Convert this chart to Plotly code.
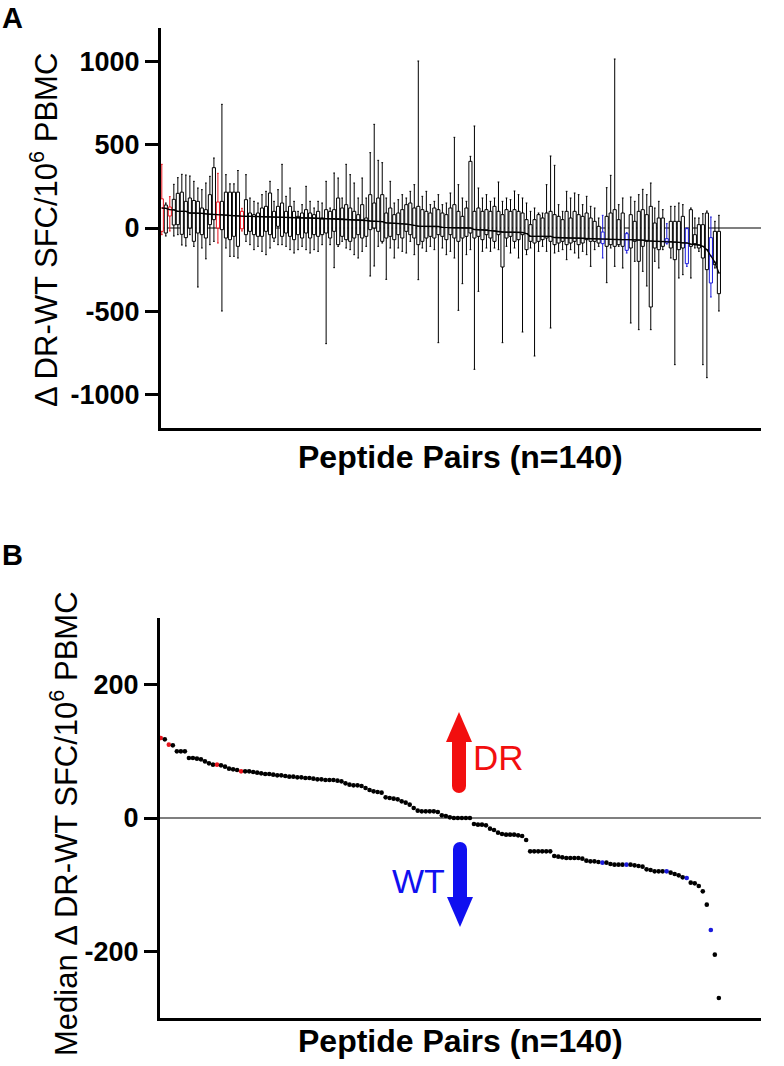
import plotly.graph_objects as go

W, H = 784, 1066

# ---------------- data ----------------
pair_idx = list(range(1, 141))

medians = [120,118,110,109,100,100,100,90,90,89,
           88,85,82,80,80,79,77,74,73,72,
           70,70,70,69,68,67,66,66,65,64,
           64,63,62,62,61,61,60,60,59,58,
           58,57,57,57,56,55,52,50,49,49,
           48,45,42,40,39,38,31,30,29,28,
           25,23,20,15,11,10,10,10,10,9,
           4,3,1,0,0,0,0,0,-9,-10,
           -10,-11,-16,-18,-22,-24,-25,-25,-25,-26,
           -27,-33,-50,-50,-50,-50,-50,-50,-57,-58,
           -59,-60,-60,-60,-60,-61,-64,-65,-65,-66,
           -67,-67,-69,-70,-70,-70,-70,-70,-71,-72,
           -73,-77,-78,-80,-80,-80,-80,-82,-84,-86,
           -89,-90,-97,-98,-102,-110,-130,-168,-205,-270]

upper_whisker = [382,150,188,262,302,322,318,312,280,240,
                 230,270,310,420,328,742,320,265,265,345,
                 118,320,180,160,150,200,220,280,160,230,
                 382,190,240,160,100,140,250,160,120,160,
                 150,280,120,330,300,180,382,320,270,180,
                 300,180,452,622,406,392,180,280,150,170,
                 200,180,220,260,1002,190,220,140,160,200,
                 140,150,210,544,260,180,160,430,612,240,
                 180,200,160,180,276,160,180,170,222,200,
                 180,150,100,120,90,90,260,432,376,140,
                 100,220,180,210,200,140,190,130,120,60,
                 76,242,316,1014,140,180,-28,186,160,200,
                 232,200,270,120,160,110,26,130,130,150,
                 140,0,120,60,60,86,102,66,40,76]

q3 = [175,138,126,172,208,215,160,180,165,160,
      120,110,200,362,156,160,215,215,215,215,
      100,170,90,80,90,120,130,210,100,130,
      150,100,130,100,70,90,110,90,80,100,
      60,110,100,110,180,120,140,120,100,80,
      140,60,200,150,180,200,90,120,80,90,
      110,140,150,120,130,110,100,90,120,110,
      90,80,120,140,100,70,120,400,100,120,
      100,110,100,130,100,80,110,100,110,100,
      90,50,20,50,80,60,90,100,80,70,
      50,100,60,100,80,70,90,60,40,10,
      -24,70,90,110,50,90,-34,80,40,100,
      110,80,130,30,60,60,-64,40,40,40,
      70,-4,110,-40,20,20,90,-58,-20,-20]

q1 = [-20,-30,72,18,20,-38,-58,0,-80,-30,
      -40,-60,20,50,0,-10,-60,-70,-50,-110,
      -5,-40,-20,-40,-50,-50,-20,-40,-60,10,
      -50,-30,-50,-70,-40,-60,-30,-60,-40,-50,
      -40,-30,-60,-20,-100,-50,-70,-80,-60,-40,
      -60,-50,-10,0,-20,-80,-60,-50,-70,-40,
      -60,-20,-40,-60,-100,-80,-60,-50,-60,-40,
      -50,-70,-40,-60,-80,-60,-50,-30,-60,-50,
      -70,-40,-60,-80,-40,-234,-60,-50,-80,-70,
      -40,-130,-80,-90,-80,-70,-60,-80,-100,-90,
      -80,-100,-90,-80,-100,-90,-70,-80,-80,-90,
      -94,-110,-100,-110,-100,-110,-134,-120,-80,-200,
      -110,-80,-474,-120,-130,-110,-90,-120,-190,-130,
      -120,-214,-110,-100,-120,-180,-250,-330,-220,-394]

lower_whisker = [-40,-48,-18,-48,-40,-102,-108,-40,-110,-354,
                 -120,-185,-100,-80,-90,-498,-120,-170,-170,-180,
                 -18,-80,-100,-130,-110,-140,-160,-120,-80,-100,
                 -100,-110,-130,-150,-130,-110,-130,-150,-130,-140,
                 -100,-694,-100,-238,-110,-80,-120,-130,-160,-180,
                 -140,-110,-288,-228,-110,-90,-308,-120,-180,-120,
                 -140,-150,-80,-160,-310,-120,-140,-110,-130,-688,
                 -120,-160,-140,-180,-494,-334,-160,-130,-848,-380,
                 -140,-120,-140,-120,-130,-688,-110,-150,-120,-180,
                 -624,-160,-120,-768,-140,-110,-140,-600,-150,-140,
                 -130,-190,-130,-150,-180,-140,-160,-230,-130,-110,
                 -180,-328,-120,-230,-110,-240,-150,-570,-200,-610,
                 -260,-348,-610,-200,-240,-130,-96,-180,-820,-300,
                 -280,-230,-300,-120,-140,-820,-898,-414,-240,-498]

dr_pairs = [1, 3, 15, 21]
wt_pairs = [111, 117, 127, 132, 138]

groups = ["DR" if i in dr_pairs else ("WT" if i in wt_pairs else "NS") for i in pair_idx]
group_colors = {"NS": "black", "DR": "#e8141c", "WT": "#1a1adc"}

y_ticks_a = [-1000, -500, 0, 500, 1000]
y_ticks_b = [-200, 0, 200]

FONT = "Liberation Sans, Arial, Helvetica, sans-serif"

fig = go.Figure()

# ---------------- Panel A: box plots ----------------
for g in ["NS", "DR", "WT"]:
    sel = [k for k, gg in enumerate(groups) if gg == g]
    fig.add_trace(go.Box(
        x=[pair_idx[k] for k in sel],
        q1=[q1[k] for k in sel],
        median=[medians[k] for k in sel],
        q3=[q3[k] for k in sel],
        lowerfence=[lower_whisker[k] for k in sel],
        upperfence=[upper_whisker[k] for k in sel],
        width=0.78, whiskerwidth=0.55,
        fillcolor="white",
        line=dict(color=group_colors[g], width=1),
        boxpoints=False, showlegend=False, hoverinfo="skip",
        xaxis="x", yaxis="y",
    ))

fig.add_trace(go.Scatter(
    x=pair_idx, y=medians, mode="lines",
    line=dict(color="black", width=1.3),
    showlegend=False, hoverinfo="skip", xaxis="x", yaxis="y",
))

# ---------------- Panel B: sorted medians ----------------
fig.add_trace(go.Scatter(
    x=pair_idx, y=medians, mode="markers",
    marker=dict(size=4.6, color=[group_colors[g] for g in groups], line=dict(width=0)),
    showlegend=False, hoverinfo="skip", xaxis="x2", yaxis="y2",
))


def px(x):
    return x / W


def py(y):
    return 1 - y / H


axis_common = dict(showline=True, linewidth=3, linecolor="black", showgrid=False,
                   zeroline=False, mirror=False)
xaxis_common = dict(axis_common, showticklabels=False, ticks="", range=[0.8, 150.5])
yaxis_common = dict(axis_common, ticks="outside", ticklen=13, tickwidth=3, tickcolor="black",
                    tickfont=dict(family=FONT, size=27, color="black", weight="bold"))

shapes = [
    dict(type="line", xref="x domain", yref="y", x0=0, x1=1, y0=0, y1=0,
         line=dict(color="black", width=1.2), layer="below"),
    dict(type="line", xref="x2 domain", yref="y2", x0=0, x1=1, y0=0, y1=0,
         line=dict(color="black", width=1.2), layer="below"),
]

# DR arrow (up, red)
red = "#f20f0f"
shapes += [
    dict(type="rect", xref="paper", yref="paper", x0=px(452), x1=px(466), y0=py(786), y1=py(741),
         fillcolor=red, line=dict(width=0)),
    dict(type="circle", xref="paper", yref="paper", x0=px(452), x1=px(466), y0=py(793), y1=py(779),
         fillcolor=red, line=dict(width=0)),
    dict(type="path", xref="paper", yref="paper",
         path=f"M {px(446)},{py(742)} L {px(472)},{py(742)} L {px(459)},{py(712)} Z",
         fillcolor=red, line=dict(width=0)),
]
# WT arrow (down, blue)
blue = "#1010f0"
shapes += [
    dict(type="rect", xref="paper", yref="paper", x0=px(453), x1=px(467), y0=py(898), y1=py(849),
         fillcolor=blue, line=dict(width=0)),
    dict(type="circle", xref="paper", yref="paper", x0=px(453), x1=px(467), y0=py(856), y1=py(842),
         fillcolor=blue, line=dict(width=0)),
    dict(type="path", xref="paper", yref="paper",
         path=f"M {px(447)},{py(897)} L {px(473)},{py(897)} L {px(460)},{py(927)} Z",
         fillcolor=blue, line=dict(width=0)),
]

ytitle = "Δ DR-WT SFC/10<sup>6</sup> PBMC"
annotations = [
    dict(text="<b>A</b>", x=px(0), y=py(18), xref="paper", yref="paper", showarrow=False,
         xanchor="left", yanchor="middle", font=dict(family=FONT, size=29, color="black")),
    dict(text="<b>B</b>", x=px(0), y=py(555), xref="paper", yref="paper", showarrow=False,
         xanchor="left", yanchor="middle", font=dict(family=FONT, size=29, color="black")),
    dict(text=ytitle, x=px(44), y=py(230), xref="paper", yref="paper", showarrow=False,
         textangle=-90, xanchor="center", yanchor="middle",
         font=dict(family=FONT, size=31, color="black")),
    dict(text="Median " + ytitle, x=px(64), y=py(824), xref="paper", yref="paper", showarrow=False,
         textangle=-90, xanchor="center", yanchor="middle",
         font=dict(family=FONT, size=31, color="black")),
    dict(text="<b>Peptide Pairs (n=140)</b>", x=px(460), y=py(457), xref="paper", yref="paper",
         showarrow=False, xanchor="center", yanchor="middle",
         font=dict(family=FONT, size=32, color="black")),
    dict(text="<b>Peptide Pairs (n=140)</b>", x=px(460), y=py(1041), xref="paper", yref="paper",
         showarrow=False, xanchor="center", yanchor="middle",
         font=dict(family=FONT, size=32, color="black")),
    dict(text="DR", x=px(498), y=py(757), xref="paper", yref="paper", showarrow=False,
         xanchor="center", yanchor="middle", font=dict(family=FONT, size=35, color=red)),
    dict(text="WT", x=px(418), y=py(881), xref="paper", yref="paper", showarrow=False,
         xanchor="center", yanchor="middle", font=dict(family=FONT, size=34, color=blue)),
]

fig.update_layout(
    width=W, height=H,
    margin=dict(l=0, r=0, t=0, b=0),
    paper_bgcolor="white", plot_bgcolor="white",
    boxmode="overlay",
    showlegend=False,
    xaxis=dict(xaxis_common, domain=[px(161), px(761)], anchor="y"),
    yaxis=dict(yaxis_common, domain=[py(428), py(28)], anchor="x",
               range=[-1200, 1200], tickvals=y_ticks_a, ticktext=[str(v) for v in y_ticks_a]),
    xaxis2=dict(xaxis_common, domain=[px(160), px(761)], anchor="y2"),
    yaxis2=dict(yaxis_common, domain=[py(1018), py(618)], anchor="x2",
                range=[-300, 300], tickvals=y_ticks_b, ticktext=[str(v) for v in y_ticks_b]),
    shapes=shapes,
    annotations=annotations,
)

fig.write_html(
    "out.html",
    config={"displayModeBar": False},
    post_script="document.body.style.margin='0';document.body.style.overflow='hidden';",
)
